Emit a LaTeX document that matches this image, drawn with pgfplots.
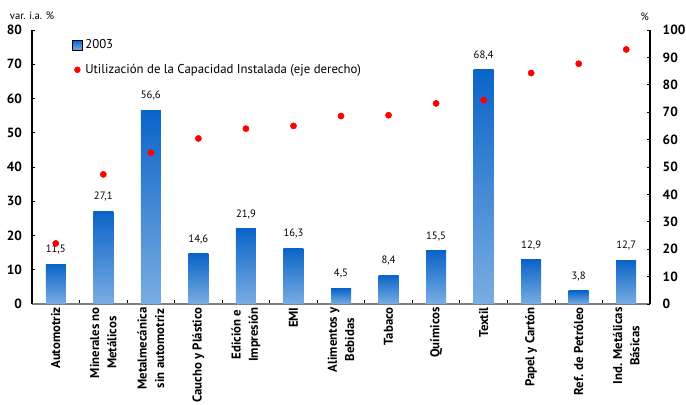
\documentclass[border=0pt]{standalone}
\usepackage{pgfplots}
\pgfplotsset{compat=1.18}
\usepackage{fontspec}
\setmainfont{PT Sans}

\definecolor{barTop}{HTML}{0A64C8}
\definecolor{barBot}{HTML}{7AADE2}
\definecolor{dotRed}{HTML}{FF0000}

\pgfplotsset{
  base/.style={
    width=463.5pt, height=205.5pt, scale only axis,
    xmin=-0.5, xmax=12.5,
    tick align=inside,
    major tick length=2.5pt,
    minor tick length=3pt,
    ticklabel style={font=\fontsize{10}{12}\selectfont\bfseries},
    /pgf/number format/assume math mode=true,
    axis line style={-, line width=0.8pt},
    tick style={black, line width=0.6pt},
  },
  % each bar is its own path so that the gradient runs over that bar only
  gradbar/.style={ybar, bar width=15pt, draw=none, top color=barTop, bottom color=barBot},
}

\begin{document}
\begin{tikzpicture}
% left axis: year-on-year change of production, 2003
\begin{axis}[base, name=main,
  ymin=0, ymax=80, ytick={0,10,...,80},
  axis x line*=bottom, axis y line*=left,
  x axis line style={draw=black!50, line width=1.1pt},
  yticklabel style={xshift=-4pt},
  xtick={0,...,12},
  major x tick style={draw=none},
  minor xtick={0.5,1.5,...,11.5},
  xticklabels={Automotriz, {Minerales no\\Metálicos}, {Metalmecánica\\sin automotriz},
    Caucho y Plástico, {Edición e\\Impresión}, EMI, {Alimentos y\\Bebidas},
    Tabaco, Químicos, Textil, Papel y Cartón, Ref. de Petróleo,
    {Ind. Metálicas\\Básicas}},
  x tick label style={rotate=90, anchor=east, align=center, xshift=1pt,
    font=\fontsize{9.6}{13}\selectfont\bfseries},
]
\addplot[gradbar] coordinates {(0,11.5)};
\addplot[gradbar] coordinates {(1,27.1)};
\addplot[gradbar] coordinates {(2,56.6)};
\addplot[gradbar] coordinates {(3,14.6)};
\addplot[gradbar] coordinates {(4,21.9)};
\addplot[gradbar] coordinates {(5,16.3)};
\addplot[gradbar] coordinates {(6,4.5)};
\addplot[gradbar] coordinates {(7,8.4)};
\addplot[gradbar] coordinates {(8,15.5)};
\addplot[gradbar] coordinates {(9,68.4)};
\addplot[gradbar] coordinates {(10,12.9)};
\addplot[gradbar] coordinates {(11,3.8)};
\addplot[gradbar] coordinates {(12,12.7)};
% value labels above the bars
\addplot[draw=none, mark=none, nodes near coords,
  /pgf/number format/.cd, use comma, fixed, fixed zerofill, precision=1,
  /pgfplots/.cd,
  every node near coord/.style={font=\fontsize{8}{9}\selectfont, text=black, anchor=south, yshift=4pt}]
  coordinates {(0,11.5) (1,27.1) (2,56.6) (3,14.6) (4,21.9) (5,16.3) (6,4.5)
               (7,8.4) (8,15.5) (9,68.4) (10,12.9) (11,3.8) (12,12.7)};
\end{axis}

% right axis: installed capacity utilisation
\begin{axis}[base,
  ymin=0, ymax=100, ytick={0,10,...,100},
  axis y line*=right, axis x line=none,
  yticklabel style={xshift=6pt},
  legend style={at={(0.058,0.985)}, anchor=north west, draw=none, fill=none,
    font=\fontsize{9.6}{11}\selectfont, row sep=6pt},
  legend cell align=left,
]
\addlegendimage{legend image code/.code={%
  \shade[top color=barTop, bottom color=barBot] (0pt,-3.75pt) rectangle (7.5pt,3.75pt);}}
\addlegendentry{2003}
\addplot[only marks, mark=*, mark size=2.3pt, color=dotRed,
  legend image code/.code={\fill[dotRed] (3.75pt,0pt) circle (2.2pt);}]
  coordinates {(0,22.1) (1,47.3) (2,55.2) (3,60.4) (4,64.0) (5,65.0) (6,68.6)
               (7,68.9) (8,73.2) (9,74.4) (10,84.3) (11,87.7) (12,92.9)};
\addlegendentry{Utilización de la Capacidad Instalada (eje derecho)}
\end{axis}

\node[font=\fontsize{8}{9}\selectfont] at ([yshift=11pt]main.north west) {var. i.a. \%};
\node[font=\fontsize{8}{9}\selectfont] at ([xshift=-4pt,yshift=10pt]main.north east) {\%};

\pgfresetboundingbox
\path[use as bounding box] ([shift={(-24pt,-75.75pt)}]main.south west)
  rectangle ([shift={(27pt,22.5pt)}]main.north east);
\end{tikzpicture}
\end{document}
